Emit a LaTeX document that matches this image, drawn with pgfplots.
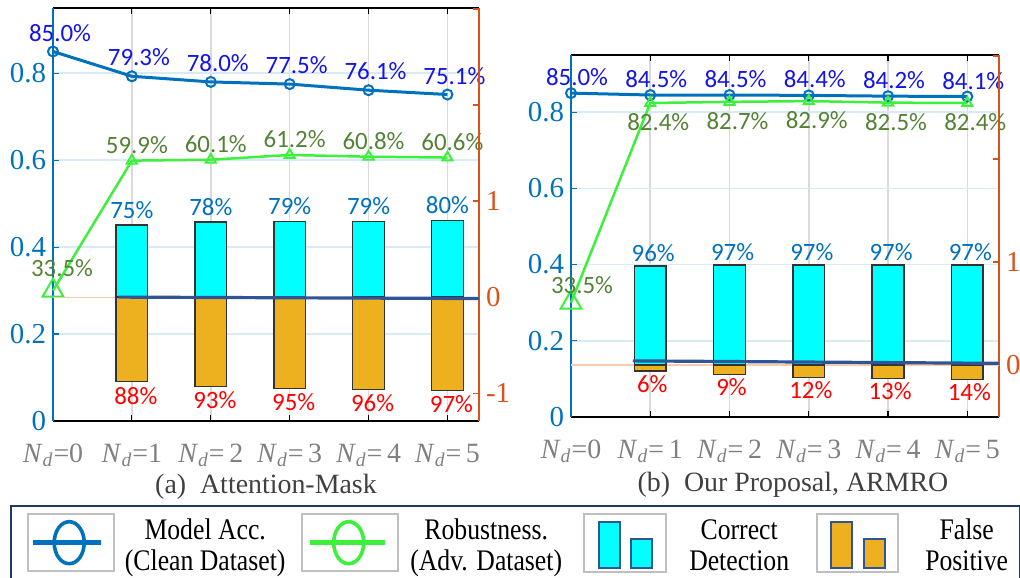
\documentclass[border=0pt]{standalone}
\usepackage{pgfplots}
\pgfplotsset{compat=1.18}
\usepackage{graphicx}
\usepackage{fontspec}
\setmainfont{Liberation Serif}
\newfontfamily\labf{Carlito}
\newfontfamily\serf{Liberation Serif}
\definecolor{mblue}{HTML}{0072BD}
\definecolor{lblue}{HTML}{1414E6}
\definecolor{mgreen}{HTML}{3CF03C}
\definecolor{dgreen}{HTML}{548235}
\definecolor{mcyan}{HTML}{00FFFF}
\definecolor{morange}{HTML}{EDB120}
\definecolor{cylab}{HTML}{0070C0}
\definecolor{raxis}{HTML}{D95319}
\definecolor{dline}{HTML}{2F5597}
\definecolor{salmon}{HTML}{F8CBAD}
\definecolor{xlab}{HTML}{808080}
\definecolor{capc}{HTML}{404040}
\definecolor{navy}{HTML}{203864}
\definecolor{ygrid}{HTML}{D6EAF8}
\definecolor{xgrid}{HTML}{DADADA}
\definecolor{iconframe}{HTML}{BFBFBF}
\newcommand{\Nd}[1]{\mbox{\serf\fontsize{14}{14}\selectfont\textit{N}\textsubscript{\textit{d}}#1}}
\newcommand{\dlf}{\labf\fontsize{12.5}{12.5}\selectfont}
\newcommand{\tk}[1]{\mbox{\serf\fontsize{14.5}{14.5}\selectfont #1}}
\newcommand{\legtext}[2]{\raisebox{-13.75bp}[14bp][14bp]{\scalebox{0.86}[1]{\serf\fontsize{15}{15.5}\selectfont\begin{tabular}[b]{@{}c@{}}#1\\#2\end{tabular}}}}
\pgfplotsset{
  leftax/.style={
    scale only axis, xmin=0, xmax=5.4, ymin=0, ymax=0.95,
    axis x line*=box, axis y line*=left,
    x axis line style={black, line width=0.8bp, -},
    y axis line style={mblue, line width=0.8bp, -},
    xtick={0,...,5}, ytick={0,0.2,0.4,0.6,0.8},
    yticklabels={\tk{0},\tk{0.2},\tk{0.4},\tk{0.6},\tk{0.8}},
    tick align=inside, major tick length=3bp,
    xtick style={black, line width=0.6bp},
    ytick style={mblue, line width=0.6bp},
    xmajorgrids, ymajorgrids,
    x grid style={xgrid, line width=0.8bp},
    y grid style={ygrid, line width=0.8bp},
    yticklabel style={text=mblue},
    xticklabel style={text=xlab, yshift=-8bp},
    clip=false,
  },
  rightax/.style={
    scale only axis, xmin=0, xmax=5.4,
    axis x line=none, axis y line*=right,
    y axis line style={raxis, line width=0.8bp, -},
    tick align=inside, major tick length=3bp,
    ytick style={raxis, line width=0.6bp},
    yticklabel style={text=raxis},
    clip=false,
  },
  lab/.style n args={3}{nodes near coords, point meta=explicit symbolic,
    every node near coord/.append style={font=\dlf, text=#1, anchor=base, inner sep=0pt, xshift=#2, yshift=#3}},
}
\begin{document}
\begin{tikzpicture}
% ---------------- Panel (a) ----------------
\begin{axis}[leftax, at={(0,0)}, anchor=south west, width=213bp, height=206.5bp,
  xticklabels={\Nd{=0},\Nd{=1},\Nd{=\,2},\Nd{=\,3},\Nd{=\,4},\Nd{=\,5}}]
\addplot[mblue, line width=1.5bp, mark=o, mark size=2.5bp, mark options={line width=1bp},
  lab={lblue}{3.5bp}{5.2bp}]
  coordinates {(0,0.850)[85.0\%] (1,0.793)[79.3\%] (2,0.780)[78.0\%] (3,0.775)[77.5\%] (4,0.761)[76.1\%] (5,0.751)[75.1\%]};
\addplot[mgreen, line width=1.25bp, mark=none]
  coordinates {(0,0.300) (1,0.599) (2,0.601) (3,0.612) (4,0.608) (5,0.606)};
\addplot[only marks, mgreen, mark=triangle, mark size=2.9bp, mark options={line width=1bp},
  lab={dgreen}{2.5bp}{3.75bp}]
  coordinates {(1,0.599)[59.9\%] (2,0.601)[60.1\%] (3,0.612)[61.2\%] (4,0.608)[60.8\%] (5,0.606)[60.6\%]};
\addplot[only marks, mgreen, mark=triangle, mark size=6bp, mark options={line width=1bp},
  lab={dgreen}{4.5bp}{7.25bp}]
  coordinates {(0,0.300)[33.5\%]};
\node[font=\serf\fontsize{14}{14}\selectfont, text=capc] at (rel axis cs:0.5,0) [yshift=-33bp] {(a)\ \ Attention-Mask};
\end{axis}
\begin{axis}[rightax, at={(0,0)}, anchor=south west, width=213bp, height=206.5bp,
  ymin=-1.29, ymax=3.01, ytick={-1,0,1,2,3}, yticklabels={\tk{-1},\tk{0},\tk{1},{},{}},
  legend columns=4,
  legend style={at={(-0.1009,-0.2034)}, anchor=north west, draw=navy, line width=1.2bp, fill=white,
    inner xsep=0pt, inner ysep=3.25bp, /tikz/column sep=0pt, /tikz/row sep=0pt,
    cells={anchor=center}, nodes={inner sep=0pt, text depth={}, text height={}}}]
\addplot[forget plot, salmon, line width=0.6bp] coordinates {(0,0) (5.4,0)};
\addplot[forget plot, ybar, bar width=0.4, bar shift=0pt, fill=mcyan, draw=black!80, line width=0.7bp,
  lab={cylab}{0bp}{3.25bp}]
  coordinates {(1,0.75)[75\%] (2,0.78)[78\%] (3,0.79)[79\%] (4,0.79)[79\%] (5,0.80)[80\%]};
\addplot[forget plot, ybar, bar width=0.4, bar shift=0pt, fill=morange, draw=black!80, line width=0.7bp,
  lab={red}{2bp}{-11.25bp}]
  coordinates {(1,-0.88)[88\%] (2,-0.93)[93\%] (3,-0.95)[95\%] (4,-0.96)[96\%] (5,-0.97)[97\%]};
\addplot[forget plot, dline, line width=1.6bp] coordinates {(0.83,0) (5.4,-0.015)};
% legend
\addlegendimage{legend image code/.code={
  \path[draw=none, fill=none] (0,-14.5bp) rectangle (51.5bp,14.5bp);
  \draw[iconframe, line width=1bp, fill=white] (8.5bp,-14.25bp) rectangle (51.5bp,14.25bp);
  \draw[mblue, line width=2.5bp] (11bp,0) -- (45bp,0);
  \draw[mblue, line width=1.8bp] (29bp,0) ellipse (7.5bp and 10.5bp);}}
\addlegendentry{\makebox[90bp]{\legtext{Model Acc.}{(Clean Dataset)}}}
\addlegendimage{legend image code/.code={
  \path[draw=none, fill=none] (0,-14.5bp) rectangle (51.5bp,14.5bp);
  \draw[iconframe, line width=1bp, fill=white] (3.5bp,-14.25bp) rectangle (51.5bp,14.25bp);
  \draw[mgreen, line width=2.5bp] (7.5bp,0) -- (45bp,0);
  \draw[mgreen, line width=1.8bp] (26.75bp,0) ellipse (7.5bp and 10.5bp);}}
\addlegendentry{\makebox[87bp]{\legtext{Robustness.}{(Adv. Dataset)}}}
\addlegendimage{legend image code/.code={
  \path[draw=none, fill=none] (0,-14.5bp) rectangle (46.5bp,14.5bp);
  \draw[iconframe, line width=1bp, fill=white] (5.5bp,-14.5bp) rectangle (46.5bp,14.5bp);
  \draw[dline, line width=1bp, fill=mcyan] (13bp,-12.5bp) rectangle (23.5bp,10.5bp);
  \draw[dline, line width=1bp, fill=mcyan] (29bp,-12.5bp) rectangle (39.5bp,2bp);}}
\addlegendentry{\makebox[72bp]{\legtext{Correct}{Detection}}}
\addlegendimage{legend image code/.code={
  \path[draw=none, fill=none] (0,-14.5bp) rectangle (43.5bp,14.5bp);
  \draw[iconframe, line width=1bp, fill=white] (3bp,-14.5bp) rectangle (43.5bp,14.5bp);
  \draw[dline, line width=1bp, fill=morange] (10bp,-12.5bp) rectangle (20.5bp,10.5bp);
  \draw[dline, line width=1bp, fill=morange] (26.5bp,-12.5bp) rectangle (37bp,2bp);}}
\addlegendentry{\makebox[60.5bp]{\hspace*{7bp}\legtext{False}{Positive}}}
\end{axis}
% ---------------- Panel (b) ----------------
\begin{axis}[leftax, at={(259bp,2bp)}, anchor=south west, width=214bp, height=181bp,
  xticklabels={\Nd{=0},\Nd{=\,1},\Nd{=\,2},\Nd{=\,3},\Nd{=\,4},\Nd{=\,5}}]
\addplot[mblue, line width=1.5bp, mark=o, mark size=2.5bp, mark options={line width=1bp},
  lab={lblue}{3bp}{3.75bp}]
  coordinates {(0,0.850)[85.0\%] (1,0.845)[84.5\%] (2,0.845)[84.5\%] (3,0.844)[84.4\%] (4,0.842)[84.2\%] (5,0.841)[84.1\%]};
\addplot[mgreen, line width=1.25bp, mark=none]
  coordinates {(0,0.300) (1,0.824) (2,0.827) (3,0.829) (4,0.825) (5,0.824)};
\addplot[only marks, mgreen, mark=triangle, mark size=2.9bp, mark options={line width=1bp},
  lab={dgreen}{4bp}{-13.75bp}]
  coordinates {(1,0.824)[82.4\%] (2,0.827)[82.7\%] (3,0.829)[82.9\%] (4,0.825)[82.5\%] (5,0.824)[82.4\%]};
\addplot[only marks, mgreen, mark=triangle, mark size=6bp, mark options={line width=1bp},
  lab={dgreen}{5.5bp}{4.75bp}]
  coordinates {(0,0.300)[33.5\%]};
\node[font=\serf\fontsize{14}{14}\selectfont, text=capc] at (rel axis cs:0.5,0) [xshift=4bp, yshift=-34bp] {(b)\ \ Our Proposal, ARMRO};
\end{axis}
\begin{axis}[rightax, at={(259bp,2bp)}, anchor=south west, width=214bp, height=181bp,
  ymin=-0.505, ymax=3.01, ytick={0,1,2,3}, yticklabels={\tk{0},\tk{1},{},{}}]
\addplot[salmon, line width=0.6bp] coordinates {(0,0) (5.4,0)};
\addplot[ybar, bar width=0.4, bar shift=0pt, fill=mcyan, draw=black!80, line width=0.7bp,
  lab={cylab}{1.5bp}{2.25bp}]
  coordinates {(1,0.96)[96\%] (2,0.97)[97\%] (3,0.97)[97\%] (4,0.97)[97\%] (5,0.97)[97\%]};
\addplot[ybar, bar width=0.4, bar shift=0pt, fill=morange, draw=black!80, line width=0.7bp,
  lab={red}{1bp}{-10.75bp}]
  coordinates {(1,-0.06)[6\%] (2,-0.09)[9\%] (3,-0.12)[12\%] (4,-0.13)[13\%] (5,-0.14)[14\%]};
\addplot[dline, line width=1.6bp] coordinates {(0.78,0.04) (5.4,0.016)};
\end{axis}
\pgfresetboundingbox
\path (-26.5bp,-78.5bp) rectangle (483.5bp,210.5bp);
\end{tikzpicture}
\end{document}
